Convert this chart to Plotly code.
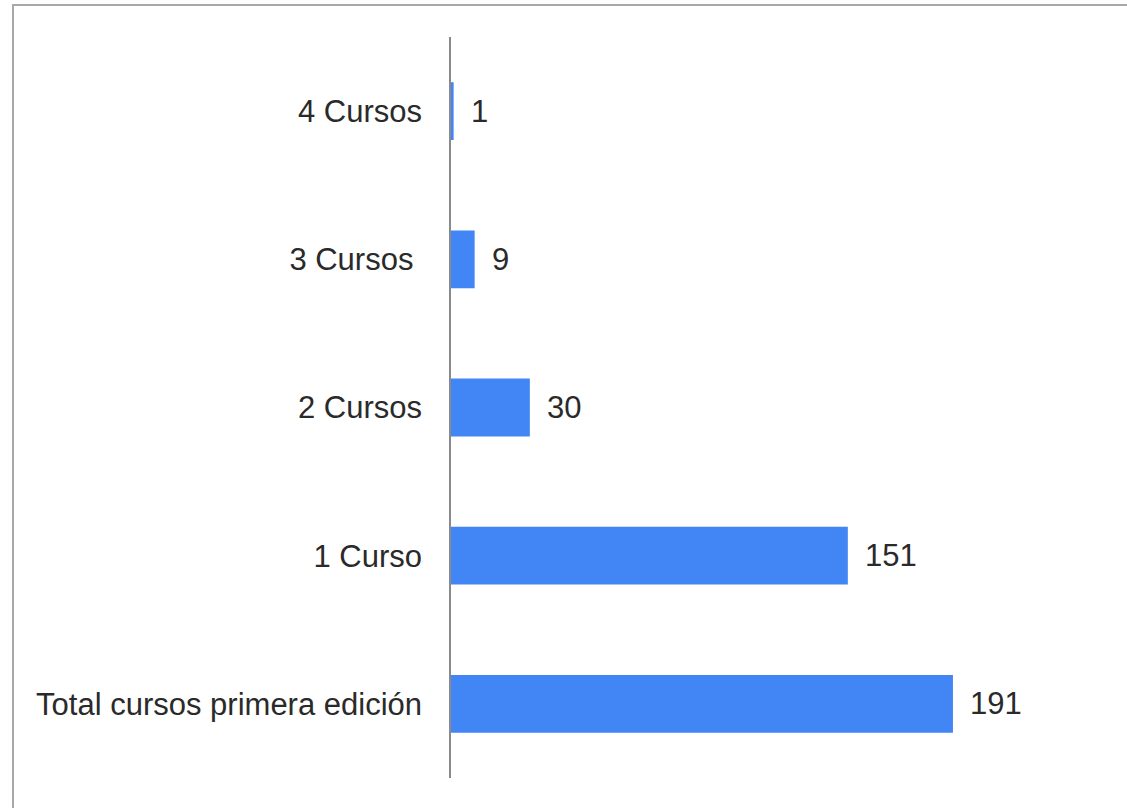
import plotly.graph_objects as go

categories = ["Total cursos primera edición", "1 Curso", "2 Cursos", "3 Cursos\u00a0", "4 Cursos"]
values = [191, 151, 30, 9, 1]
value_labels = ["191", "151", "30", "9", "1"]

W, H = 1127, 808
L, R, T, B = 451, 19, 37, 30
pw = W - L - R
ph = H - T - B

fig = go.Figure(go.Bar(
    x=values, y=categories, orientation="h",
    marker=dict(color="#4285F4", line=dict(width=0)),
    hoverinfo="x+y",
))

for v, c, t in zip(values, categories, value_labels):
    fig.add_annotation(x=v, y=c, text=t, xanchor="left", yanchor="middle",
                       xshift=15, showarrow=False,
                       font=dict(family="Liberation Sans, Arial", size=31, color="#2a2a2a"))

# outer frame (only top and left visible in the reference)
fig.add_shape(type="rect", xref="paper", yref="paper",
              x0=(13 - L) / pw, x1=1.2, y0=-0.2, y1=(H - B - 5) / ph,
              line=dict(color="#a8a8a8", width=2), fillcolor="rgba(0,0,0,0)")

fig.update_layout(
    width=W, height=H,
    margin=dict(l=L, r=R, t=T, b=B, pad=0),
    paper_bgcolor="white", plot_bgcolor="white",
    bargap=0.61,
    showlegend=False,
    font=dict(family="Liberation Sans, Arial", size=31, color="#2a2a2a"),
    xaxis=dict(range=[0, 250], visible=False, showgrid=False, zeroline=False),
    yaxis=dict(showline=True, linecolor="#8a8a8a", linewidth=1.5,
               ticks="", showgrid=False, zeroline=False,
               ticklabelstandoff=21,
               tickfont=dict(family="Liberation Sans, Arial", size=31, color="#2a2a2a")),
)

fig.write_html("out.html", config={"displayModeBar": False},
               post_script="document.body.style.margin='0';")
